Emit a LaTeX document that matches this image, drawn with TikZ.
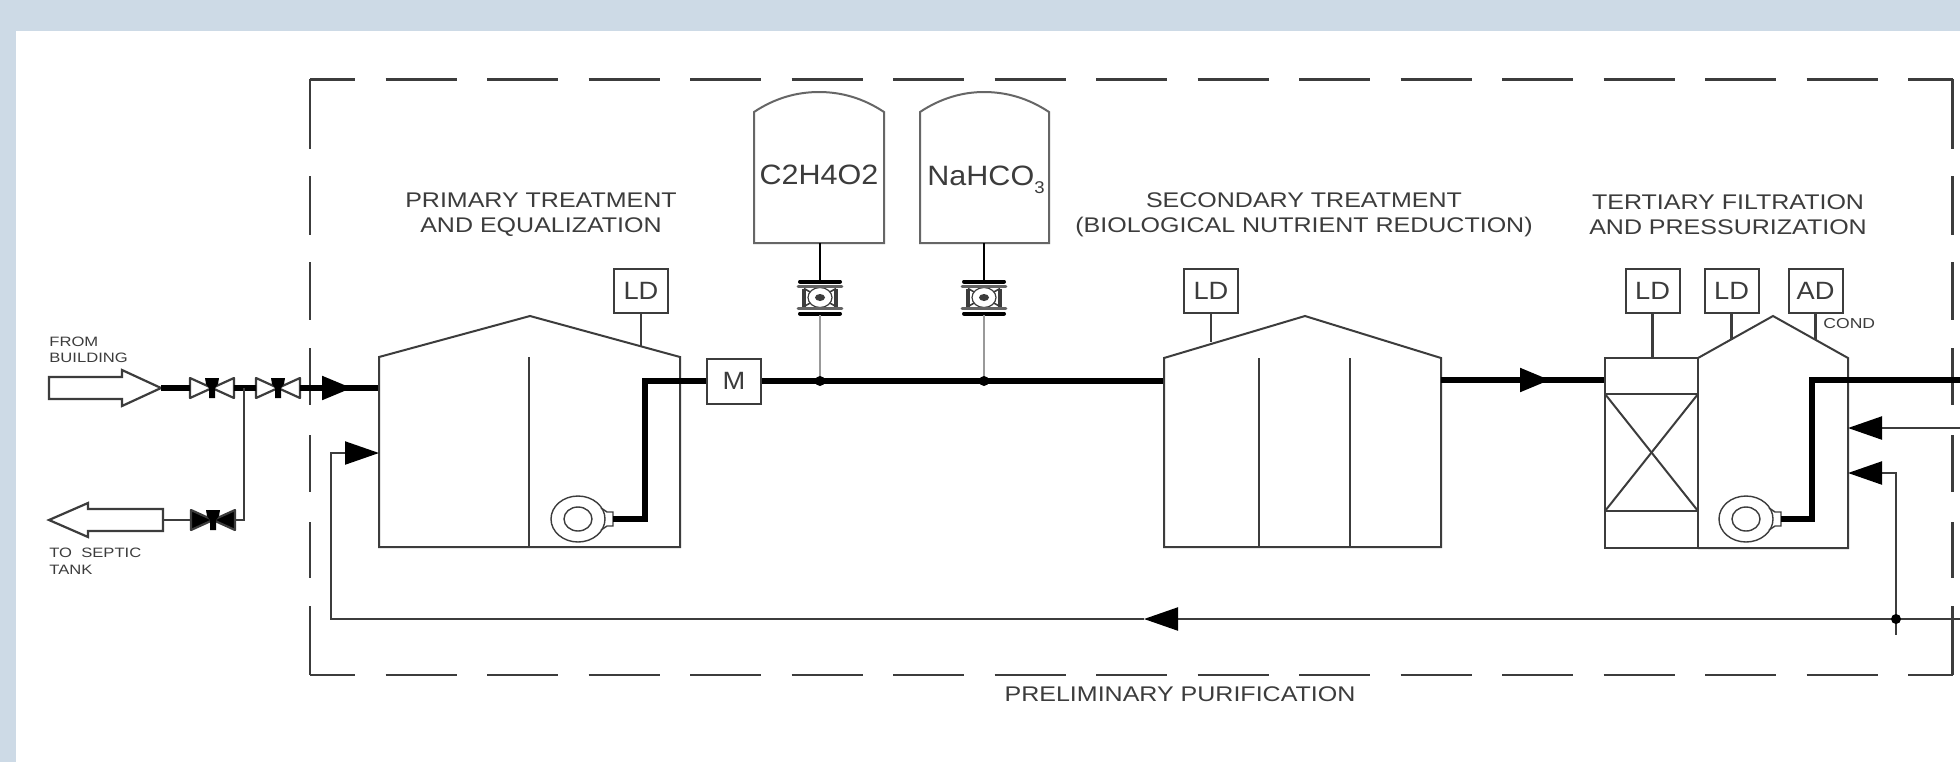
\documentclass[tikz,border=0pt]{standalone}
\usepackage{fontspec}
\setmainfont[FakeStretch=1.09]{Liberation Sans}
\newfontfamily\titlefont[FakeStretch=1.18]{Liberation Sans}
\newfontfamily\smallfont[FakeStretch=1.22]{Liberation Sans}
\usetikzlibrary{arrows.meta,shapes.geometric}
\definecolor{bgblue}{HTML}{CDDAE6}
\definecolor{ink}{HTML}{3C3C3C}
\tikzset{
  wall/.style={draw=ink,line width=1pt,line join=miter},
  thickpipe/.style={draw=black,line width=2.6pt,line join=miter},
  thinpipe/.style={draw=ink,line width=1.1pt,line join=miter},
  graypipe/.style={draw=black!40,line width=1.4pt},
  hdash/.style={draw=ink,line width=1.2pt,dash pattern=on 35.5pt off 15.25pt,dash phase=13pt},
  vdash/.style={draw=ink,line width=1.2pt,dash pattern=on 35pt off 13.5pt on 29.5pt off 13.5pt on 29pt off 14pt on 28.5pt off 15pt on 28.5pt off 15pt on 28pt off 14pt on 34.5pt off 10pt},
  tag/.style={draw=ink,line width=1pt,fill=white,inner sep=0pt,minimum width=27pt,minimum height=22pt,text=ink,font=\fontsize{12.5pt}{13pt}\selectfont},
  title/.style={text=ink,align=center,inner sep=0pt,font=\titlefont\fontsize{10.6pt}{12.4pt}\selectfont},
  small/.style={text=ink,align=left,anchor=west,inner sep=0pt,font=\smallfont\fontsize{6.8pt}{8.3pt}\selectfont},
  chem/.style={text=ink,inner sep=0pt,font=\fontsize{14pt}{15pt}\selectfont},
  head/.style={-{Triangle[length=17pt,width=11.5pt,black]}},
  headshort/.style={-{Triangle[length=15pt,width=11.5pt,black]}},
  holder/.style={inner sep=0pt,minimum width=22pt,minimum height=10pt},
  pumpbody/.style={ellipse,draw=ink,line width=.7pt,fill=white,inner sep=0pt,minimum width=27pt,minimum height=23pt},
  pumpeye/.style={ellipse,draw=ink,line width=.7pt,inner sep=0pt,minimum width=14pt,minimum height=12pt},
  meterbox/.style={inner sep=0pt,minimum width=23pt,minimum height=17.5pt},
}
% valve: name, x, y, fill colour
\newcommand{\myvalve}[4]{%
  \node[holder] (#1) at (#2,#3) {};
  \begin{scope}[shift={(#2,#3)}]
    \draw[draw=ink,line width=1.1pt,fill=#4,line join=round] (-22,-10) -- (0,0) -- (-22,10) -- cycle;
    \draw[draw=ink,line width=1.1pt,fill=#4,line join=round] (22,-10) -- (0,0) -- (22,10) -- cycle;
    \fill[black] (-7,-10) -- (7,-10) -- (6,-4) -- (3,0) -- (3,10) -- (-3,10) -- (-3,0) -- (-6,-4) -- cycle;
  \end{scope}}
% metering pump: name, x, y
\newcommand{\mymeter}[3]{%
  \node[meterbox] (#1) at (#2,#3) {};
  \begin{scope}[shift={(#2,#3)}]
    \draw[ink,line width=.8pt] (-16,-9) -- (16,9) (16,-9) -- (-16,9);
    \draw[ink,line width=1.6pt] (-16,-9) -- (-16,9) (16,-9) -- (16,9);
    \fill[white] (0,0) ellipse [x radius=12,y radius=10];
    \draw[ink,line width=.6pt] (0,0) ellipse [x radius=12,y radius=10];
    \fill[ink] (0,0) ellipse [x radius=5,y radius=3.5];
    \draw[black,line width=2pt,line cap=round] (-20,-16) -- (20,-16) (-20,16) -- (20,16);
    \draw[ink!80,line width=1.4pt,line cap=round] (-22,-11) -- (22,-11) (-22,11) -- (22,11);
  \end{scope}}
% centrifugal pump: name, x, y
\newcommand{\mycentri}[3]{%
  \node[pumpbody] (#1) at (#2,#3) {};
  \node[pumpeye] (#1eye) at (#2,#3) {};
  \begin{scope}[shift={(#2,#3)}]
    \draw[ink,line width=.7pt] (23,-11) -- (29,-7) -- (35,-7) -- (35,7) -- (29,7) -- (23,11);
    \coordinate (#1out) at (35,0);
  \end{scope}}
\begin{document}
\begin{tikzpicture}[x=0.5pt,y=-0.5pt]
\useasboundingbox (0,0) rectangle (1960,762);
\fill[bgblue] (0,0) rectangle (1960,762);
\fill[white] (16,31) rectangle (1960,762);

% dashed boundary
\draw[hdash] (310,79.5) -- (1952.5,79.5);
\draw[hdash] (310,675) -- (1952.5,675);
\draw[vdash] (310,79) -- (310,675.5);
\draw[vdash] (1952.5,79) -- (1952.5,675.5);

% key points
\coordinate (fromtip) at (161,388);
\coordinate (septictail) at (163,520);
\coordinate (branchT) at (244,388);
\coordinate (branchB) at (244,520);
\coordinate (inTip) at (352,388);
\coordinate (inWall) at (379,388);
\coordinate (fbWall) at (379,453);
\coordinate (fbCorner) at (331,453);
\coordinate (fbLow) at (331,619);
\coordinate (fbMid) at (1144,619);
\coordinate (fbJunction) at (1896,619);
\coordinate (fbStub) at (1896,635);
\coordinate (fbRight) at (1960,619);
\coordinate (ret2Wall) at (1848,473);
\coordinate (ret2Corner) at (1896,473);
\coordinate (ret1Wall) at (1848,428);
\coordinate (ret1Right) at (1960,428);
\coordinate (outRight) at (1960,380);
\coordinate (jA) at (820,381);
\coordinate (jB) at (984,381);
\coordinate (sec1Wall) at (1164,381);
\coordinate (sec2Wall) at (1441,380);
\coordinate (secTip) at (1550,380);
\coordinate (filtWall) at (1605,380);

% inlet and outlet block arrows
\draw[draw=ink,line width=1.1pt,line join=miter] (49,377) -- (122,377) -- (122,370) -- (fromtip) -- (122,406) -- (122,399) -- (49,399) -- cycle;
\draw[draw=ink,line width=1.1pt,line join=miter] (49,520) -- (88,503) -- (88,509) -- (163,509) -- (163,531) -- (88,531) -- (88,537) -- cycle;

% valves
\myvalve{vA}{212}{388}{white}
\myvalve{vB}{278}{388}{white}
\myvalve{vC}{213}{520}{black}

% inlet piping
\draw[thickpipe] (fromtip) -- (vA.west);
\draw[thickpipe] (vA.east) -- (vB.west);
\draw[thickpipe] (vB.east) -- (inWall);
\draw[thickpipe,headshort] (vB.east) -- (inTip);
\draw[thinpipe] (branchT) -- (branchB) -- (vC.east);
\draw[thinpipe] (vC.west) -- (septictail);

% primary tank
\draw[wall] (379,547) -- (379,357) -- (530,316) -- (680,357) -- (680,547) -- cycle;
\draw[wall] (529,357) -- (529,547);
\mycentri{pA}{578}{519}
\node[tag] (ldA) at (641,291) {LD};
\coordinate (ldAf) at (ldA.south |- 0,347);
\draw[thinpipe] (ldA.south) -- (ldAf);

% mixer
\node[tag,minimum height=22.5pt] (mix) at (734,381) {M};
\draw[thickpipe] (pAout) -| (645,381) -- (mix.west);
\draw[thickpipe] (mix.east) -- (sec1Wall);

% chemical tanks
\draw[wall,draw=black!60] (754,243) -- (754,112) .. controls (775,98) and (797,92) .. (819,92) .. controls (841,92) and (863,98) .. (884,112) -- (884,243) -- cycle;
\draw[wall,draw=black!60] (920,243) -- (920,112) .. controls (941,98) and (963,92) .. (984,92) .. controls (1006,92) and (1028,98) .. (1049,112) -- (1049,243) -- cycle;
\node[chem] (chemA) at (819,175) {C2H4O2};
\node[chem,anchor=base] (chemB) at (986,185) {NaHCO\raisebox{-4pt}{\fontsize{8.5pt}{9pt}\selectfont 3}};
\mymeter{mA}{820}{297.5}
\mymeter{mB}{984}{297.5}
\coordinate (tankAb) at (820,243);
\coordinate (tankBb) at (984,243);
\draw[thinpipe,draw=black] (tankAb) -- (mA.north);
\draw[thinpipe,draw=black] (tankBb) -- (mB.north);
\draw[graypipe] (mA.south) -- (jA);
\draw[graypipe] (mB.south) -- (jB);
\fill[black] (jA) circle [radius=5];
\fill[black] (jB) circle [radius=5];

% secondary tank
\draw[wall] (1164,547) -- (1164,358) -- (1305,316) -- (1441,358) -- (1441,547) -- cycle;
\draw[wall] (1259,358) -- (1259,547);
\draw[wall] (1350,358) -- (1350,547);
\node[tag] (ldB) at (1211,291) {LD};
\coordinate (ldBf) at (ldB.south |- 0,342);
\draw[thinpipe] (ldB.south) -- (ldBf);
\draw[thickpipe] (sec2Wall) -- (filtWall);
\draw[thickpipe,headshort] (sec2Wall) -- (secTip);

% filter and tertiary tank
\draw[wall] (1605,358) rectangle (1698,548);
\draw[wall] (1605,394) -- (1698,394);
\draw[wall] (1605,511) -- (1698,511);
\draw[wall] (1605,394) -- (1698,511);
\draw[wall] (1698,394) -- (1605,511);
\draw[wall] (1698,358) -- (1773,316) -- (1848,358) -- (1848,548) -- (1698,548);
\mycentri{pB}{1746}{519}
\draw[thickpipe] (pBout) -| (1812,380) -- (outRight);
\node[tag] (ldC) at (1652.5,291) {LD};
\node[tag] (ldD) at (1731.5,291) {LD};
\node[tag] (adA) at (1815.5,291) {AD};
\coordinate (ldCf) at (ldC.south |- 0,358);
\coordinate (ldDf) at (ldD.south |- 0,340);
\coordinate (adAf) at (adA.south |- 0,340);
\draw[thinpipe] (ldC.south) -- (ldCf);
\draw[thinpipe] (ldD.south) -- (ldDf);
\draw[thinpipe] (adA.south) -- (adAf);

% return lines
\draw[thinpipe,head] (ret1Right) -- (ret1Wall);
\draw[thinpipe,head] (fbJunction) -- (ret2Corner) -- (ret2Wall);
\draw[thinpipe,head] (fbRight) -- (fbMid);
\draw[thinpipe,head] (fbMid) -- (fbLow) -- (fbCorner) -- (fbWall);
\draw[thinpipe] (fbJunction) -- (fbStub);
\fill[black] (fbJunction) circle [radius=5];

% labels
\node[small] (lblFrom) at (49,350) {FROM\\BUILDING};
\node[small] (lblTo) at (49,561.5) {TO\ \ SEPTIC\\TANK};
\node[title] (lblPrim) at (541,215) {PRIMARY TREATMENT\\AND EQUALIZATION};
\node[title] (lblSec) at (1304,215) {SECONDARY TREATMENT\\(BIOLOGICAL NUTRIENT REDUCTION)};
\node[title] (lblTer) at (1728,215) {TERTIARY FILTRATION\\AND PRESSURIZATION};
\node[title] (lblPre) at (1180,694) {PRELIMINARY PURIFICATION};
\node[small,font=\smallfont\fontsize{7.2pt}{8pt}\selectfont] (lblCond) at (1823,324) {COND};
\end{tikzpicture}
\end{document}
